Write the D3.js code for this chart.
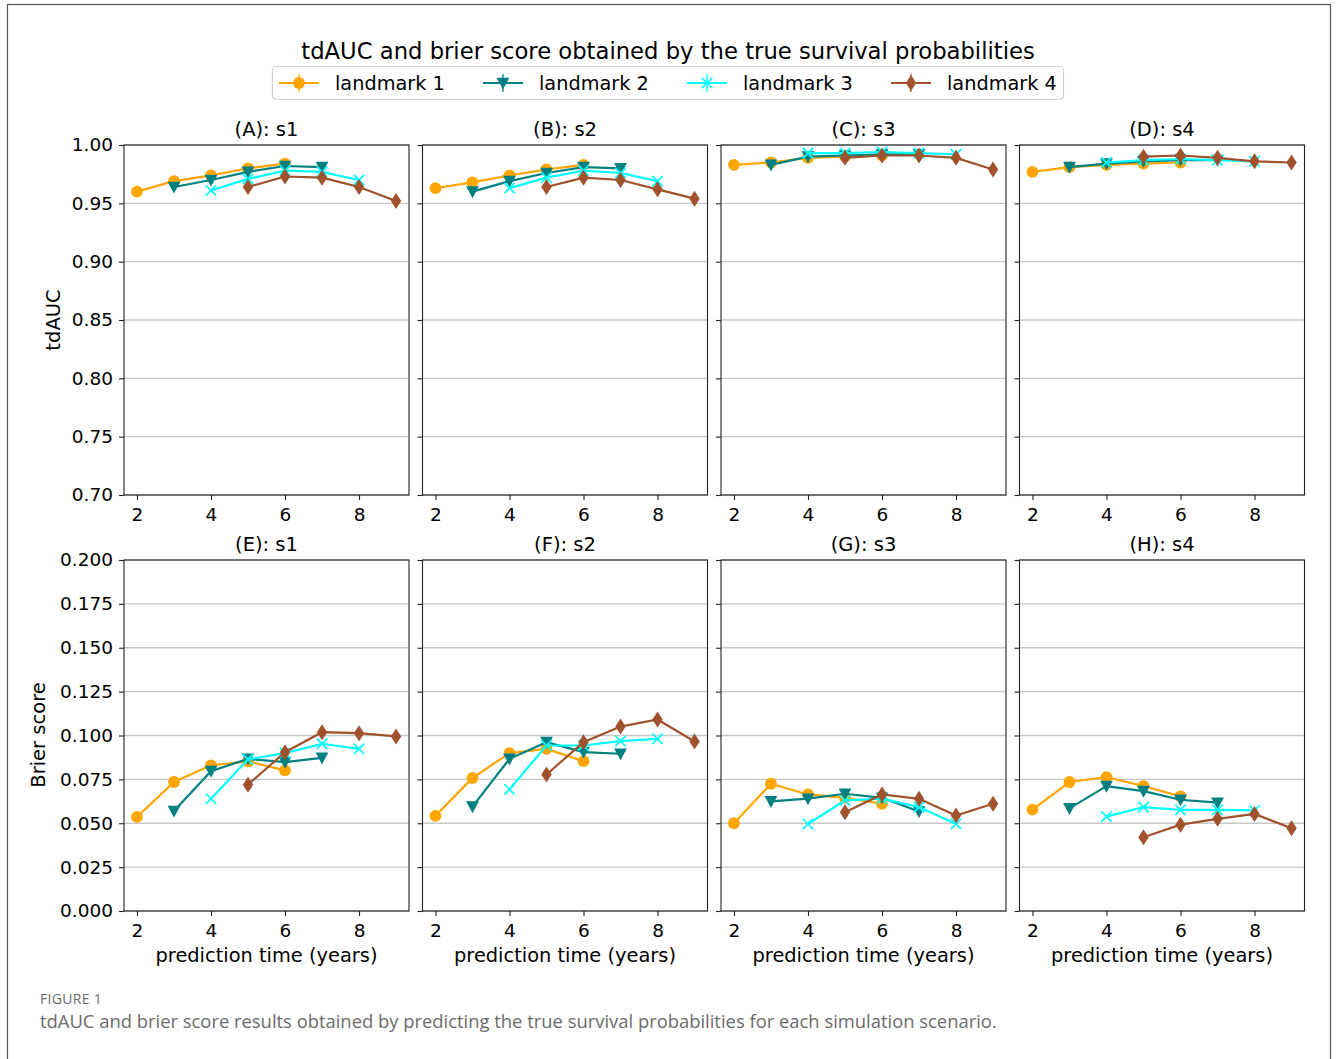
<!DOCTYPE html>
<html>
<head>
<meta charset="utf-8">
<script src="https://d3js.org/d3.v7.min.js"></script>
<style>
body { margin: 0; background: #fff; }
text { font-family: "DejaVu Sans", sans-serif; fill: #000; }
.cap text { font-family: "Open Sans", "Noto Sans", sans-serif; fill: #6b6b6b; }
.grid line { stroke: #c8c8c8; stroke-width: 1.3; }
</style>
</head>
<body>
<svg width="1336" height="1059"></svg>
<script>
// prediction times per landmark
var times = [[2,3,4,5,6],[3,4,5,6,7],[4,5,6,7,8],[5,6,7,8,9]];
var landmarks = ["landmark 1","landmark 2","landmark 3","landmark 4"];
var colors = ["#ffa500","#008080","#00ffff","#a0522d"];
var shapes = ["circle","tri","x","diamond"];
var topTitles = ["(A): s1","(B): s2","(C): s3","(D): s4"];
var botTitles = ["(E): s1","(F): s2","(G): s3","(H): s4"];

// tdAUC [scenario][landmark]
var auc = [
  [[0.960,0.969,0.974,0.980,0.984],[0.964,0.970,0.977,0.982,0.981],[0.961,0.971,0.978,0.977,0.970],[0.964,0.973,0.972,0.964,0.952]],
  [[0.963,0.968,0.974,0.979,0.983],[0.960,0.969,0.976,0.981,0.980],[0.963,0.972,0.978,0.976,0.969],[0.964,0.972,0.970,0.962,0.954]],
  [[0.983,0.985,0.989,0.990,0.991],[0.983,0.990,0.991,0.992,0.992],[0.993,0.993,0.994,0.993,0.992],[0.989,0.991,0.991,0.989,0.979]],
  [[0.977,0.981,0.983,0.984,0.985],[0.981,0.984,0.986,0.987,0.987],[0.985,0.987,0.988,0.987,0.986],[0.990,0.991,0.989,0.986,0.985]]
];
// Brier score [scenario][landmark]
var brier = [
  [[0.0536,0.0735,0.0830,0.0852,0.0801],[0.0570,0.0797,0.0867,0.0848,0.0873],[0.0640,0.0864,0.0900,0.0953,0.0924],[0.0720,0.0905,0.1019,0.1013,0.0995]],
  [[0.0542,0.0758,0.0900,0.0924,0.0854],[0.0595,0.0867,0.0962,0.0905,0.0896],[0.0693,0.0943,0.0943,0.0968,0.0981],[0.0778,0.0962,0.1051,0.1091,0.0966]],
  [[0.0500,0.0725,0.0664,0.0645,0.0611],[0.0625,0.0640,0.0668,0.0645,0.0567],[0.0496,0.0630,0.0640,0.0592,0.0496],[0.0563,0.0664,0.0639,0.0544,0.0611]],
  [[0.0578,0.0735,0.0763,0.0712,0.0653],[0.0585,0.0712,0.0683,0.0634,0.0617],[0.0538,0.0592,0.0576,0.0576,0.0573],[0.0420,0.0492,0.0525,0.0553,0.0471]]
];
var xTicks = [2,4,6,8];
var aucTicks = [0.70,0.75,0.80,0.85,0.90,0.95,1.00];
var brierTicks = [0.000,0.025,0.050,0.075,0.100,0.125,0.150,0.175,0.200];

var svg = d3.select("svg");

// outer frame
svg.append("rect").attr("x",7.5).attr("y",4.5).attr("width",1323).attr("height",1100)
  .attr("fill","none").attr("stroke","#555").attr("stroke-width",1.2);

var panelW = 285, colStep = 298.5, left0 = 124;
var x = d3.scaleLinear().domain([1.65, 9.35]).range([0, panelW]);

function marker(g, shape, color) {
  if (shape == "circle") {
    g.append("circle").attr("r",5.9).attr("fill",color);
  } else if (shape == "tri") {
    g.append("path").attr("d","M-6.4,-5.3L6.4,-5.3L0,6.6Z").attr("fill",color);
  } else if (shape == "x") {
    g.append("path").attr("d","M-5.2,-5.2L5.2,5.2M-5.2,5.2L5.2,-5.2").attr("stroke",color).attr("stroke-width",1.7);
  } else {
    g.append("path").attr("d","M0,-8L5.2,0L0,8L-5.2,0Z").attr("fill",color);
  }
}

function panel(col, top, height, yDomain, yTicks, fmt, data, title, xlabel) {
  var y = d3.scaleLinear().domain(yDomain).range([height, 0]);
  var g = svg.append("g").attr("transform","translate("+(left0+col*colStep)+","+top+")");
  g.append("g").attr("class","grid").selectAll("line").data(yTicks).enter().append("line")
    .attr("x1",0).attr("x2",panelW).attr("y1",function(d){return y(d);}).attr("y2",function(d){return y(d);});

  var yAx = g.append("g").call(d3.axisLeft(y).tickValues(yTicks).tickFormat(d3.format(fmt)).tickSize(5).tickPadding(6));
  var xAx = g.append("g").attr("transform","translate(0,"+height+")")
    .call(d3.axisBottom(x).tickValues(xTicks).tickFormat(d3.format("d")).tickSize(5).tickPadding(8));
  [yAx, xAx].forEach(function(a){
    a.select(".domain").remove();
    a.selectAll("line").attr("stroke","#222").attr("stroke-width",1.1);
    a.selectAll("text").style("font-size","18.5px").style("font-family","DejaVu Sans");
  });
  if (col > 0) yAx.selectAll("text").remove();

  var line = d3.line().x(function(d){return x(d[0]);}).y(function(d){return y(d[1]);});
  data.forEach(function(vals, k) {
    var pts = times[k].map(function(t,i){return [t, vals[i]];});
    g.append("path").datum(pts).attr("d",line).attr("fill","none")
      .attr("stroke",colors[k]).attr("stroke-width",2.2);
    pts.forEach(function(p){
      marker(g.append("g").attr("transform","translate("+x(p[0])+","+y(p[1])+")"), shapes[k], colors[k]);
    });
  });

  g.append("rect").attr("width",panelW).attr("height",height).attr("fill","none")
    .attr("stroke","#222").attr("stroke-width",1.1);
  g.append("text").attr("x",panelW/2).attr("y",-9).attr("text-anchor","middle")
    .style("font-size","19.5px").text(title);
  if (xlabel) g.append("text").attr("x",panelW/2).attr("y",height+51).attr("text-anchor","middle")
    .style("font-size","19.4px").text("prediction time (years)");
}

for (var c = 0; c < 4; c++) {
  panel(c, 145, 350, [0.70, 1.00], aucTicks, ".2f", auc[c], topTitles[c], false);
  panel(c, 560, 351, [0, 0.2], brierTicks, ".3f", brier[c], botTitles[c], true);
}

svg.append("text").attr("transform","translate(60,320) rotate(-90)").attr("text-anchor","middle")
  .style("font-size","19.5px").text("tdAUC");
svg.append("text").attr("transform","translate(45,735) rotate(-90)").attr("text-anchor","middle")
  .style("font-size","19.5px").text("Brier score");

svg.append("text").attr("x",668).attr("y",59).attr("text-anchor","middle")
  .style("font-size","22.7px").text("tdAUC and brier score obtained by the true survival probabilities");

// legend
var leg = svg.append("g");
leg.append("rect").attr("x",272.5).attr("y",66.5).attr("width",791).attr("height",33).attr("rx",4)
  .attr("fill","#fff").attr("stroke","#d0d0d0").attr("stroke-width",1.2);
var legX = [279, 483, 687, 891];
landmarks.forEach(function(name, k) {
  var e = leg.append("g").attr("transform","translate("+legX[k]+",83)");
  e.append("line").attr("x1",0).attr("x2",40).attr("stroke",colors[k]).attr("stroke-width",2.2);
  e.append("line").attr("x1",20).attr("x2",20).attr("y1",-9).attr("y2",9).attr("stroke",colors[k]).attr("stroke-width",1.3);
  marker(e.append("g").attr("transform","translate(20,0)"), shapes[k], colors[k]);
  e.append("text").attr("x",56).attr("y",7).style("font-size","19.3px").text(name);
});

// caption
var cap = svg.append("g").attr("class","cap");
cap.append("text").attr("x",40).attr("y",1004).style("font-size","14px").style("letter-spacing","0.3px").text("FIGURE 1");
cap.append("text").attr("x",40).attr("y",1028).style("font-size","18.4px")
  .text("tdAUC and brier score results obtained by predicting the true survival probabilities for each simulation scenario.");
</script>
</body>
</html>
